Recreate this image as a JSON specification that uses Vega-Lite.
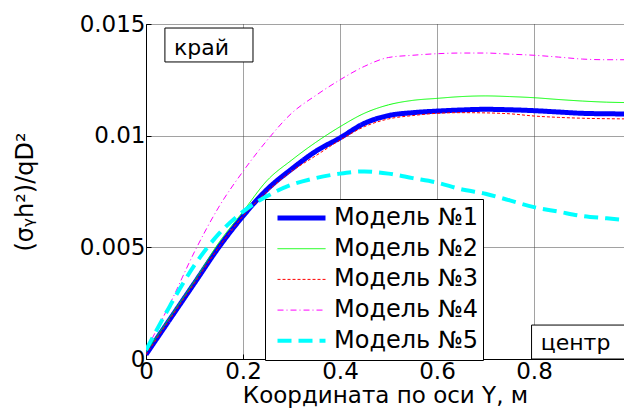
{
  "$schema": "https://vega.github.io/schema/vega-lite/v6.json",
  "width": 478,
  "height": 335,
  "autosize": {"type": "none"},
  "padding": {"left": 146, "top": 24, "right": 0, "bottom": 56},
  "background": "white",
  "config": {
    "view": {"stroke": null},
    "font": "DejaVu Sans",
    "axis": {
      "labelFont": "DejaVu Sans",
      "labelFontSize": 23,
      "labelColor": "black",
      "titleFont": "DejaVu Sans",
      "titleFontSize": 23,
      "titleFontWeight": "normal",
      "titleColor": "black",
      "domainColor": "black",
      "domainWidth": 1,
      "tickColor": "black",
      "tickSize": -5,
      "labelPadding": 6,
      "gridColor": "#444444",
      "gridDash": [1, 1],
      "gridOpacity": 1,
      "gridWidth": 1,
      "labelOverlap": false,
      "labelFlush": false
    }
  },
  "datasets": {
    "curves": [
      {"x": 0, "v": 0.0002, "m": "Модель №1"},
      {"x": 0.05, "v": 0.0018, "m": "Модель №1"},
      {"x": 0.1, "v": 0.0034, "m": "Модель №1"},
      {"x": 0.15, "v": 0.005, "m": "Модель №1"},
      {"x": 0.2, "v": 0.0064, "m": "Модель №1"},
      {"x": 0.25, "v": 0.0076, "m": "Модель №1"},
      {"x": 0.3, "v": 0.0085, "m": "Модель №1"},
      {"x": 0.35, "v": 0.0093, "m": "Модель №1"},
      {"x": 0.4, "v": 0.0099, "m": "Модель №1"},
      {"x": 0.45, "v": 0.01055, "m": "Модель №1"},
      {"x": 0.5, "v": 0.0109, "m": "Модель №1"},
      {"x": 0.55, "v": 0.01103, "m": "Модель №1"},
      {"x": 0.6, "v": 0.0111, "m": "Модель №1"},
      {"x": 0.65, "v": 0.01115, "m": "Модель №1"},
      {"x": 0.7, "v": 0.01118, "m": "Модель №1"},
      {"x": 0.75, "v": 0.01116, "m": "Модель №1"},
      {"x": 0.8, "v": 0.01112, "m": "Модель №1"},
      {"x": 0.85, "v": 0.01106, "m": "Модель №1"},
      {"x": 0.9, "v": 0.011, "m": "Модель №1"},
      {"x": 0.95, "v": 0.01098, "m": "Модель №1"},
      {"x": 1.0, "v": 0.01097, "m": "Модель №1"},

      {"x": 0, "v": 0.0003, "m": "Модель №2"},
      {"x": 0.05, "v": 0.0019, "m": "Модель №2"},
      {"x": 0.1, "v": 0.0035, "m": "Модель №2"},
      {"x": 0.15, "v": 0.0052, "m": "Модель №2"},
      {"x": 0.2, "v": 0.0066, "m": "Модель №2"},
      {"x": 0.25, "v": 0.008, "m": "Модель №2"},
      {"x": 0.3, "v": 0.0089, "m": "Модель №2"},
      {"x": 0.35, "v": 0.0097, "m": "Модель №2"},
      {"x": 0.4, "v": 0.0104, "m": "Модель №2"},
      {"x": 0.45, "v": 0.011, "m": "Модель №2"},
      {"x": 0.5, "v": 0.01138, "m": "Модель №2"},
      {"x": 0.55, "v": 0.01158, "m": "Модель №2"},
      {"x": 0.6, "v": 0.01167, "m": "Модель №2"},
      {"x": 0.65, "v": 0.01175, "m": "Модель №2"},
      {"x": 0.7, "v": 0.01178, "m": "Модель №2"},
      {"x": 0.75, "v": 0.01175, "m": "Модель №2"},
      {"x": 0.8, "v": 0.0117, "m": "Модель №2"},
      {"x": 0.85, "v": 0.01162, "m": "Модель №2"},
      {"x": 0.9, "v": 0.01155, "m": "Модель №2"},
      {"x": 0.95, "v": 0.0115, "m": "Модель №2"},
      {"x": 1.0, "v": 0.01148, "m": "Модель №2"},

      {"x": 0, "v": 0.0002, "m": "Модель №3"},
      {"x": 0.05, "v": 0.0018, "m": "Модель №3"},
      {"x": 0.1, "v": 0.0034, "m": "Модель №3"},
      {"x": 0.15, "v": 0.005, "m": "Модель №3"},
      {"x": 0.2, "v": 0.0064, "m": "Модель №3"},
      {"x": 0.25, "v": 0.0075, "m": "Модель №3"},
      {"x": 0.3, "v": 0.0084, "m": "Модель №3"},
      {"x": 0.35, "v": 0.0091, "m": "Модель №3"},
      {"x": 0.4, "v": 0.0098, "m": "Модель №3"},
      {"x": 0.45, "v": 0.0104, "m": "Модель №3"},
      {"x": 0.5, "v": 0.01075, "m": "Модель №3"},
      {"x": 0.55, "v": 0.0109, "m": "Модель №3"},
      {"x": 0.6, "v": 0.011, "m": "Модель №3"},
      {"x": 0.65, "v": 0.01103, "m": "Модель №3"},
      {"x": 0.7, "v": 0.01102, "m": "Модель №3"},
      {"x": 0.75, "v": 0.01098, "m": "Модель №3"},
      {"x": 0.8, "v": 0.01088, "m": "Модель №3"},
      {"x": 0.85, "v": 0.01082, "m": "Модель №3"},
      {"x": 0.9, "v": 0.01078, "m": "Модель №3"},
      {"x": 0.95, "v": 0.01076, "m": "Модель №3"},
      {"x": 1.0, "v": 0.01075, "m": "Модель №3"},

      {"x": 0, "v": 0.0004, "m": "Модель №4"},
      {"x": 0.05, "v": 0.0025, "m": "Модель №4"},
      {"x": 0.1, "v": 0.0048, "m": "Модель №4"},
      {"x": 0.15, "v": 0.0068, "m": "Модель №4"},
      {"x": 0.2, "v": 0.0084, "m": "Модель №4"},
      {"x": 0.25, "v": 0.0098, "m": "Модель №4"},
      {"x": 0.3, "v": 0.011, "m": "Модель №4"},
      {"x": 0.35, "v": 0.0118, "m": "Модель №4"},
      {"x": 0.4, "v": 0.0125, "m": "Модель №4"},
      {"x": 0.45, "v": 0.0131, "m": "Модель №4"},
      {"x": 0.5, "v": 0.0135, "m": "Модель №4"},
      {"x": 0.55, "v": 0.0136, "m": "Модель №4"},
      {"x": 0.6, "v": 0.01367, "m": "Модель №4"},
      {"x": 0.65, "v": 0.0137, "m": "Модель №4"},
      {"x": 0.7, "v": 0.0137, "m": "Модель №4"},
      {"x": 0.75, "v": 0.01365, "m": "Модель №4"},
      {"x": 0.8, "v": 0.0136, "m": "Модель №4"},
      {"x": 0.85, "v": 0.01352, "m": "Модель №4"},
      {"x": 0.9, "v": 0.01343, "m": "Модель №4"},
      {"x": 0.95, "v": 0.0134, "m": "Модель №4"},
      {"x": 1.0, "v": 0.0134, "m": "Модель №4"},

      {"x": 0, "v": 0.0004, "m": "Модель №5"},
      {"x": 0.05, "v": 0.0024, "m": "Модель №5"},
      {"x": 0.1, "v": 0.0042, "m": "Модель №5"},
      {"x": 0.15, "v": 0.0056, "m": "Модель №5"},
      {"x": 0.2, "v": 0.0066, "m": "Модель №5"},
      {"x": 0.25, "v": 0.0073, "m": "Модель №5"},
      {"x": 0.3, "v": 0.0078, "m": "Модель №5"},
      {"x": 0.35, "v": 0.0081, "m": "Модель №5"},
      {"x": 0.4, "v": 0.0083, "m": "Модель №5"},
      {"x": 0.45, "v": 0.0084, "m": "Модель №5"},
      {"x": 0.5, "v": 0.0083, "m": "Модель №5"},
      {"x": 0.55, "v": 0.0081, "m": "Модель №5"},
      {"x": 0.6, "v": 0.0079, "m": "Модель №5"},
      {"x": 0.65, "v": 0.0076, "m": "Модель №5"},
      {"x": 0.7, "v": 0.0074, "m": "Модель №5"},
      {"x": 0.75, "v": 0.0071, "m": "Модель №5"},
      {"x": 0.8, "v": 0.0068, "m": "Модель №5"},
      {"x": 0.85, "v": 0.0066, "m": "Модель №5"},
      {"x": 0.9, "v": 0.0064, "m": "Модель №5"},
      {"x": 0.95, "v": 0.0063, "m": "Модель №5"},
      {"x": 1.0, "v": 0.0062, "m": "Модель №5"}
    ],
    "boxes": [
      {"x1": 0.039, "x2": 0.2206, "y1": 0.0133, "y2": 0.01482},
      {"x1": 0.795, "x2": 1.05, "y1": 0, "y2": 0.00152}
    ],
    "labels": [
      {"x": 0.0577, "y": 0.0136, "t": "край"},
      {"x": 0.8138, "y": 0.0004, "t": "центр"}
    ]
  },
  "layer": [
    {
      "data": {"name": "curves"},
      "mark": {"type": "line", "clip": true, "interpolate": "monotone"},
      "encoding": {
        "x": {
          "field": "x",
          "type": "quantitative",
          "scale": {"domain": [0, 0.9856], "nice": false, "zero": false},
          "axis": {
            "values": [0, 0.2, 0.4, 0.6, 0.8],
            "format": "~g",
            "title": "Координата по оси Y, м",
            "titlePadding": 1
          }
        },
        "y": {
          "field": "v",
          "type": "quantitative",
          "scale": {"domain": [0, 0.015], "nice": false},
          "axis": {
            "values": [0, 0.005, 0.01, 0.015],
            "format": "~g",
            "title": "(σᵧh²)/qD²",
            "titleFontSize": 24,
            "titlePadding": 42
          }
        },
        "color": {
          "field": "m",
          "type": "nominal",
          "scale": {
            "domain": ["Модель №1", "Модель №2", "Модель №3", "Модель №4", "Модель №5"],
            "range": ["#0000ff", "#00ff00", "#ff0000", "#ff00ff", "#00ffff"]
          },
          "legend": {
            "orient": "none",
            "legendX": 119,
            "legendY": 175,
            "title": null,
            "symbolType": "stroke",
            "symbolSize": 2304,
            "labelFont": "DejaVu Sans",
            "labelFontSize": 24,
            "labelColor": "black",
            "strokeColor": "black",
            "fillColor": "white",
            "padding": 4,
            "clipHeight": 30,
            "rowPadding": 0.7,
            "labelOffset": 6,
            "symbolOffset": 6,
            "zindex": 1
          }
        },
        "strokeDash": {
          "field": "m",
          "type": "nominal",
          "scale": {
            "domain": ["Модель №1", "Модель №2", "Модель №3", "Модель №4", "Модель №5"],
            "range": [[1, 0], [1, 0], [3, 2], [6, 3, 1, 3], [14, 7]]
          }
        },
        "strokeWidth": {
          "field": "m",
          "type": "ordinal",
          "scale": {
            "type": "ordinal",
            "domain": ["Модель №1", "Модель №2", "Модель №3", "Модель №4", "Модель №5"],
            "range": [5, 1, 1, 1, 4]
          }
        }
      }
    },
    {
      "data": {"name": "boxes"},
      "mark": {"type": "rect", "fill": "white", "stroke": "black", "strokeWidth": 1, "clip": true},
      "encoding": {
        "x": {"field": "x1", "type": "quantitative"},
        "x2": {"field": "x2"},
        "y": {"field": "y1", "type": "quantitative"},
        "y2": {"field": "y2"}
      }
    },
    {
      "data": {"name": "labels"},
      "mark": {"type": "text", "align": "left", "baseline": "alphabetic", "fontSize": 22, "font": "DejaVu Sans", "color": "black"},
      "encoding": {
        "x": {"field": "x", "type": "quantitative"},
        "y": {"field": "y", "type": "quantitative"},
        "text": {"field": "t"}
      }
    },
    {
      "mark": {"type": "rule", "color": "black", "strokeWidth": 1},
      "encoding": {"y": {"datum": 0.015}}
    }
  ]
}
